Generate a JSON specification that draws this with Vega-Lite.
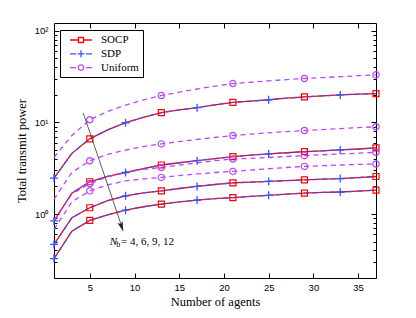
{
 "$schema": "https://vega.github.io/schema/vega-lite/v6.json",
 "width": 322, "height": 255,
 "autosize": {"type": "none"},
 "padding": {"left": 54, "top": 23, "right": 40, "bottom": 40},
 "background": "white",
 "config": {
  "view": {"stroke": "black", "strokeWidth": 1},
  "axis": {"grid": false, "domain": false, "tickColor": "black", "tickWidth": 1, "labelFont": "Liberation Sans", "labelFontSize": 9.5, "labelColor": "black", "titleFont": "Liberation Serif", "titleFontSize": 12.5, "titleFontWeight": "normal", "titleColor": "black"},
  "legend": {"strokeColor": "black", "fillColor": "white", "padding": 4, "labelFont": "Liberation Serif", "labelFontSize": 11, "labelColor": "black", "symbolSize": 100, "symbolStrokeWidth": 1.3, "symbolOffset": 11, "labelOffset": 14, "rowPadding": 0.8, "cornerRadius": 0, "symbolOpacity": 1}
 },
 "datasets": {"d": [
  {"x":1,"nb":4,"s":2.47,"u":4.16},{"x":3,"nb":4,"s":4.6,"u":7.2},{"x":5,"nb":4,"s":6.62,"u":10.7},{"x":7,"nb":4,"s":8.3,"u":13.2},{"x":9,"nb":4,"s":9.93,"u":15.5},{"x":11,"nb":4,"s":11.35,"u":17.6},{"x":13,"nb":4,"s":12.8,"u":19.7},{"x":15,"nb":4,"s":13.7,"u":21.4},{"x":17,"nb":4,"s":14.5,"u":23.2},{"x":19,"nb":4,"s":15.6,"u":24.9},{"x":21,"nb":4,"s":16.6,"u":26.6},{"x":23,"nb":4,"s":17.1,"u":27.5},{"x":25,"nb":4,"s":17.7,"u":28.5},{"x":27,"nb":4,"s":18.4,"u":29.4},{"x":29,"nb":4,"s":19.0,"u":30.2},{"x":31,"nb":4,"s":19.5,"u":30.9},{"x":33,"nb":4,"s":20.0,"u":31.6},{"x":35,"nb":4,"s":20.4,"u":32.4},{"x":37,"nb":4,"s":20.7,"u":33.1},
  {"x":1,"nb":6,"s":0.84,"u":1.45},{"x":3,"nb":6,"s":1.69,"u":2.85},{"x":5,"nb":6,"s":2.25,"u":3.82},{"x":7,"nb":6,"s":2.57,"u":4.47},{"x":9,"nb":6,"s":2.84,"u":5.0},{"x":11,"nb":6,"s":3.14,"u":5.46},{"x":13,"nb":6,"s":3.43,"u":5.83},{"x":15,"nb":6,"s":3.63,"u":6.19},{"x":17,"nb":6,"s":3.82,"u":6.53},{"x":19,"nb":6,"s":4.03,"u":6.87},{"x":21,"nb":6,"s":4.23,"u":7.2},{"x":23,"nb":6,"s":4.39,"u":7.46},{"x":25,"nb":6,"s":4.53,"u":7.71},{"x":27,"nb":6,"s":4.67,"u":7.94},{"x":29,"nb":6,"s":4.8,"u":8.17},{"x":31,"nb":6,"s":4.9,"u":8.37},{"x":33,"nb":6,"s":5.01,"u":8.57},{"x":35,"nb":6,"s":5.13,"u":8.77},{"x":37,"nb":6,"s":5.27,"u":8.97},
  {"x":1,"nb":9,"s":0.465,"u":0.85},{"x":3,"nb":9,"s":0.91,"u":1.65},{"x":5,"nb":9,"s":1.17,"u":2.15},{"x":7,"nb":9,"s":1.4,"u":2.55},{"x":9,"nb":9,"s":1.58,"u":2.85},{"x":11,"nb":9,"s":1.7,"u":3.07},{"x":13,"nb":9,"s":1.79,"u":3.22},{"x":15,"nb":9,"s":1.9,"u":3.42},{"x":17,"nb":9,"s":2.0,"u":3.62},{"x":19,"nb":9,"s":2.1,"u":3.82},{"x":21,"nb":9,"s":2.19,"u":3.99},{"x":23,"nb":9,"s":2.23,"u":4.05},{"x":25,"nb":9,"s":2.27,"u":4.14},{"x":27,"nb":9,"s":2.32,"u":4.25},{"x":29,"nb":9,"s":2.36,"u":4.34},{"x":31,"nb":9,"s":2.4,"u":4.44},{"x":33,"nb":9,"s":2.44,"u":4.53},{"x":35,"nb":9,"s":2.5,"u":4.62},{"x":37,"nb":9,"s":2.57,"u":4.72},
  {"x":1,"nb":12,"s":0.326,"u":0.68},{"x":3,"nb":12,"s":0.65,"u":1.36},{"x":5,"nb":12,"s":0.85,"u":1.79},{"x":7,"nb":12,"s":0.98,"u":2.08},{"x":9,"nb":12,"s":1.1,"u":2.3},{"x":11,"nb":12,"s":1.2,"u":2.42},{"x":13,"nb":12,"s":1.28,"u":2.51},{"x":15,"nb":12,"s":1.36,"u":2.63},{"x":17,"nb":12,"s":1.42,"u":2.74},{"x":19,"nb":12,"s":1.47,"u":2.84},{"x":21,"nb":12,"s":1.51,"u":2.92},{"x":23,"nb":12,"s":1.56,"u":3.02},{"x":25,"nb":12,"s":1.6,"u":3.12},{"x":27,"nb":12,"s":1.65,"u":3.22},{"x":29,"nb":12,"s":1.69,"u":3.31},{"x":31,"nb":12,"s":1.72,"u":3.37},{"x":33,"nb":12,"s":1.74,"u":3.43},{"x":35,"nb":12,"s":1.78,"u":3.48},{"x":37,"nb":12,"s":1.82,"u":3.52}
 ]},
 "data": {"name": "d"},
 "layer": [
  {"mark": {"type": "line", "color": "#ff0000", "strokeWidth": 1.3},
   "encoding": {
    "x": {"field": "x", "type": "quantitative", "scale": {"domain": [1, 37], "nice": false, "zero": false}, "axis": {"orient": "bottom", "values": [5,10,15,20,25,30,35], "tickSize": -5, "labelPadding": 9, "title": "Number of agents", "titlePadding": 4}},
    "y": {"field": "s", "type": "quantitative", "scale": {"type": "log", "domain": [0.2, 122], "nice": false}, "axis": {"orient": "left", "values": [1,10,100], "tickSize": -5, "labelPadding": 11, "labelExpr": "datum.value==1?'10⁰':datum.value==10?'10¹':'10²'", "title": "Total transmit power", "titlePadding": 6}},
    "detail": {"field": "nb"}}},
  {"mark": {"type": "line", "color": "#3355ff", "strokeWidth": 1.3, "strokeDash": [5, 4]},
   "encoding": {
    "x": {"field": "x", "type": "quantitative", "axis": {"orient": "top", "values": [5,10,15,20,25,30,35], "tickSize": -5, "labels": false, "title": null}},
    "y": {"field": "s", "type": "quantitative", "axis": {"orient": "right", "values": [1,10,100], "tickSize": -5, "labels": false, "title": null}},
    "detail": {"field": "nb"}}},
  {"mark": {"type": "line", "color": "#bb44ff", "strokeWidth": 1.3, "strokeDash": [5, 4]},
   "encoding": {
    "x": {"field": "x", "type": "quantitative", "axis": null},
    "y": {"field": "u", "type": "quantitative", "axis": {"orient": "left", "values": [0.2,0.3,0.4,0.5,0.6,0.7,0.8,0.9,2,3,4,5,6,7,8,9,20,30,40,50,60,70,80,90], "tickSize": -3, "labels": false, "title": null}},
    "detail": {"field": "nb"}}},
  {"transform": [{"filter": {"field": "x", "oneOf": [5,13,21,29,37]}}],
   "mark": {"type": "point", "shape": "square", "color": "#ff0000", "filled": false, "size": 36, "strokeWidth": 1.2, "opacity": 1},
   "encoding": {
    "x": {"field": "x", "type": "quantitative", "axis": null},
    "y": {"field": "s", "type": "quantitative", "axis": {"orient": "right", "values": [0.2,0.3,0.4,0.5,0.6,0.7,0.8,0.9,2,3,4,5,6,7,8,9,20,30,40,50,60,70,80,90], "tickSize": -3, "labels": false, "title": null}}}},
  {"transform": [{"filter": {"field": "x", "oneOf": [1,9,17,25,33]}}],
   "mark": {"type": "point", "shape": "M-1,0L1,0M0,-1L0,1", "color": "#3355ff", "filled": false, "size": 64, "strokeWidth": 1.3, "opacity": 1},
   "encoding": {
    "x": {"field": "x", "type": "quantitative", "axis": null},
    "y": {"field": "s", "type": "quantitative", "axis": null}}},
  {"transform": [{"filter": {"field": "x", "oneOf": [5,13,21,29,37]}}],
   "mark": {"type": "point", "shape": "circle", "color": "#bb44ff", "filled": false, "size": 40, "strokeWidth": 1.2, "opacity": 1},
   "encoding": {
    "x": {"field": "x", "type": "quantitative", "axis": null},
    "y": {"field": "u", "type": "quantitative", "axis": null}}},
  {"data": {"values": [{"method": "SOCP"}, {"method": "SDP"}, {"method": "Uniform"}]},
   "mark": {"type": "point", "filled": false, "opacity": 0},
   "encoding": {
    "shape": {"field": "method", "type": "nominal", "scale": {"domain": ["SOCP", "SDP", "Uniform"], "range": ["M-2.2,0L-0.5,0M0.5,0L2.2,0M-0.5,-0.5L0.5,-0.5L0.5,0.5L-0.5,0.5Z", "M-2.2,0L-1.0,0M1.0,0L2.2,0M-0.7,0L0.7,0M0,-0.7L0,0.7", "M-2.2,0L-1.0,0M1.0,0L2.2,0M0.55,0A0.55,0.55,0,1,1,-0.55,0A0.55,0.55,0,1,1,0.55,0Z"]}, "legend": {"title": null, "orient": "none", "legendX": 6, "legendY": 7}},
    "color": {"field": "method", "type": "nominal", "scale": {"domain": ["SOCP", "SDP", "Uniform"], "range": ["#ff0000", "#3355ff", "#bb44ff"]}, "legend": {"title": null, "orient": "none", "legendX": 6, "legendY": 7}}}},
  {"data": {"values": [{}]},
   "mark": {"type": "rule", "color": "#333333", "strokeWidth": 0.8},
   "encoding": {"x": {"datum": 4.27, "axis": null}, "y": {"datum": 12.7, "axis": null}, "x2": {"datum": 8.73}, "y2": {"datum": 0.66}}},
  {"data": {"values": [{}]},
   "mark": {"type": "point", "shape": "M0,0L-0.35,-1.2L0,-0.95L0.35,-1.2Z", "filled": true, "color": "#222222", "size": 250, "angle": 341, "opacity": 1, "strokeWidth": 0},
   "encoding": {"x": {"datum": 8.73, "axis": null}, "y": {"datum": 0.65, "axis": null}}},
  {"data": {"values": [{}]},
   "mark": {"type": "text", "text": "N", "align": "left", "baseline": "middle", "font": "Liberation Serif", "fontStyle": "italic", "fontSize": 11, "color": "black"},
   "encoding": {"x": {"datum": 7.24, "axis": null}, "y": {"datum": 0.497, "axis": null}}},
  {"data": {"values": [{}]},
   "mark": {"type": "text", "text": "b", "align": "left", "baseline": "middle", "font": "Liberation Serif", "fontSize": 8, "dy": 3, "color": "black"},
   "encoding": {"x": {"datum": 7.95, "axis": null}, "y": {"datum": 0.497, "axis": null}}},
  {"data": {"values": [{}]},
   "mark": {"type": "text", "text": "= 4, 6, 9, 12", "align": "left", "baseline": "middle", "font": "Liberation Serif", "fontSize": 11, "color": "black"},
   "encoding": {"x": {"datum": 8.5, "axis": null}, "y": {"datum": 0.497, "axis": null}}}
 ],
 "resolve": {"axis": {"x": "independent", "y": "independent"}}
}
